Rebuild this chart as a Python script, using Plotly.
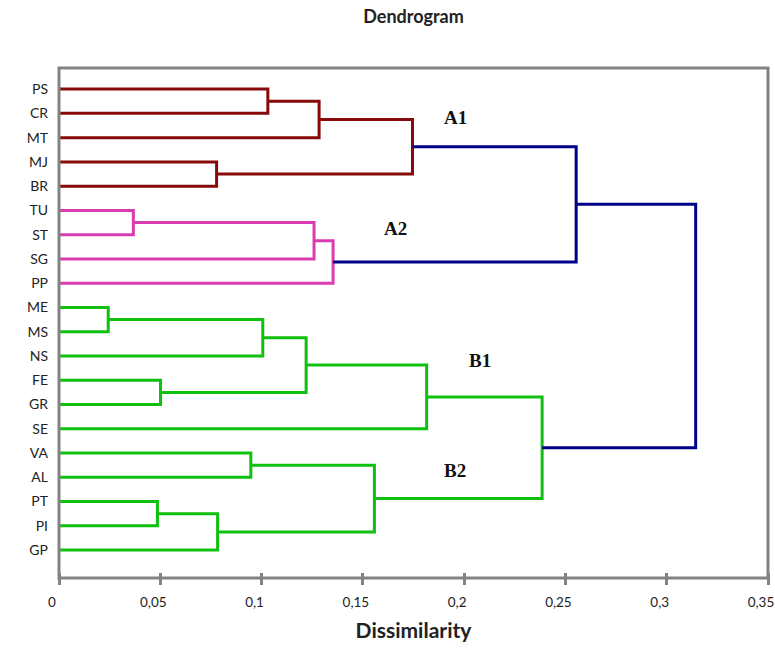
import plotly.graph_objects as go

# ---- data ----
leaves = ["PS", "CR", "MT", "MJ", "BR", "TU", "ST", "SG", "PP", "ME",
          "MS", "NS", "FE", "GR", "SE", "VA", "AL", "PT", "PI", "GP"]

# merges: (node name, child a, child b, dissimilarity, colour group)
merge_names = ["m1", "m2", "m3", "A1", "m5", "m6", "A2", "A",
               "m9", "m10", "m11", "m12", "B1", "m14", "m15", "m16", "B2", "B", "root"]
merge_a = ["PS", "m1", "MJ", "m2", "TU", "m5", "m6", "A1",
           "ME", "m9", "FE", "m10", "m12", "VA", "PT", "m15", "m14", "B1", "A"]
merge_b = ["CR", "MT", "BR", "m3", "ST", "SG", "PP", "A2",
           "MS", "NS", "GR", "m11", "SE", "AL", "PI", "GP", "m16", "B2", "B"]
merge_height = [0.1031, 0.1284, 0.0778, 0.1745, 0.0367, 0.1259, 0.1353, 0.2553,
                0.0243, 0.1006, 0.0501, 0.1220, 0.1815, 0.0947, 0.0486, 0.0783, 0.1557, 0.2385, 0.3143]
merge_group = ["A1", "A1", "A1", "A1", "A2", "A2", "A2", "top",
               "B", "B", "B", "B", "B", "B", "B", "B", "B", "B", "top"]

group_colors = {"A1": "#870a0a", "A2": "#d83cb0", "B": "#10c010", "top": "#000088"}

cluster_labels = ["A1", "A2", "B1", "B2"]
cluster_label_x = [0.1958, 0.166, 0.2077, 0.1954]
cluster_label_y = [1.15, 5.73, 11.2, 15.7]

tick_vals = [0, 0.05, 0.1, 0.15, 0.2, 0.25, 0.3, 0.35]
tick_text = ["0", "0,05", "0,1", "0,15", "0,2", "0,25", "0,3", "0,35"]

# ---- build dendrogram geometry ----
pos = {name: float(i) for i, name in enumerate(leaves)}
height = {name: 0.0 for name in leaves}
paths = {g: ([], []) for g in group_colors}
for name, a, b, h, g in zip(merge_names, merge_a, merge_b, merge_height, merge_group):
    xs, ys = paths[g]
    xs += [height[a], h, h, height[b], None]
    ys += [pos[a], pos[a], pos[b], pos[b], None]
    pos[name] = (pos[a] + pos[b]) / 2
    height[name] = h

fig = go.Figure()
for g, (xs, ys) in paths.items():
    fig.add_trace(go.Scatter(x=xs, y=ys, mode="lines",
                             line=dict(color=group_colors[g], width=3),
                             hoverinfo="skip", showlegend=False))

for t, x, y in zip(cluster_labels, cluster_label_x, cluster_label_y):
    fig.add_annotation(x=x, y=y, text="<b>%s</b>" % t, showarrow=False,
                       font=dict(family="Liberation Serif", size=19, color="#111111"))

gray = "#838383"
txt = "#222222"
font = "Lato"

# plot frame
fig.add_shape(type="rect", xref="paper", yref="paper", x0=0, x1=1, y0=0, y1=1,
              line=dict(color=gray, width=3), layer="above")

fig.update_layout(
    width=775, height=649,
    margin=dict(l=59, r=7, t=68, b=71, autoexpand=False),
    plot_bgcolor="white", paper_bgcolor="white",
    title=dict(text="<b>Dendrogram</b>", x=0.5, xref="paper", xanchor="center",
               y=1 - 17 / 649, yref="container", yanchor="middle",
               font=dict(family=font, size=18, color=txt)),
    # x axis placed 6 px above the frame bottom so its ticks cross the frame line
    xaxis=dict(range=[0, 0.35], tickvals=tick_vals, ticktext=tick_text,
               anchor="free", position=6 / 510,
               showgrid=False, zeroline=False, showline=False,
               ticks="outside", ticklen=12, tickwidth=3, tickcolor=gray,
               ticklabelstandoff=6, ticklabelshift=-7, ticklabeloverflow="allow",
               automargin=False,
               tickfont=dict(family=font, size=13.5, color=txt),
               title=dict(text="<b>Dissimilarity</b>", standoff=14,
                          font=dict(family=font, size=21, color=txt))),
    yaxis=dict(range=[20.15, -0.87], tickvals=list(range(len(leaves))), ticktext=leaves,
               showgrid=False, zeroline=False, showline=False,
               ticks="", ticklabelstandoff=10, automargin=False,
               tickfont=dict(family=font, size=14, color=txt)),
)

fig.write_html("out.html", config={"displayModeBar": False},
               post_script="document.body.style.margin='0';")
